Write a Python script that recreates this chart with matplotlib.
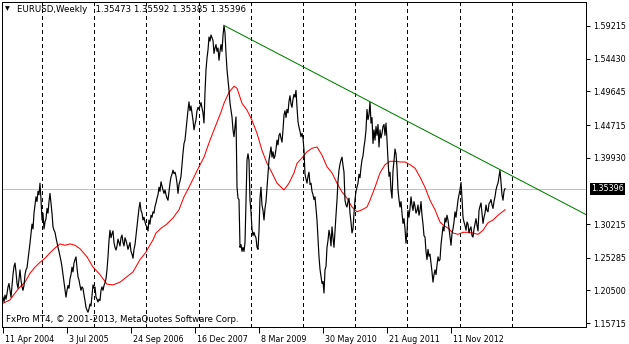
import matplotlib
matplotlib.use("Agg")
import matplotlib.pyplot as plt
import matplotlib.transforms as mtransforms

# weekly closes EURUSD, first bar = week of 11 Apr 2004
closes = [
    1.195, 1.188, 1.198, 1.192, 1.200, 1.210, 1.215, 1.205, 1.195, 1.212,
    1.228, 1.240, 1.245, 1.232, 1.215, 1.208, 1.222, 1.235, 1.220, 1.210,
    1.205, 1.212, 1.228, 1.235, 1.238, 1.250, 1.262, 1.274, 1.288, 1.302,
    1.295, 1.318, 1.330, 1.342, 1.335, 1.350, 1.345, 1.362, 1.338, 1.308,
    1.318, 1.295, 1.305, 1.310, 1.325, 1.318, 1.335, 1.347, 1.332, 1.318,
    1.298, 1.293, 1.290, 1.282, 1.275, 1.268, 1.262, 1.255, 1.248, 1.239,
    1.228, 1.216, 1.205, 1.195, 1.205, 1.212, 1.208, 1.222, 1.228, 1.239,
    1.232, 1.245, 1.250, 1.254, 1.238, 1.225, 1.220, 1.212, 1.205, 1.210,
    1.208, 1.198, 1.190, 1.180, 1.176, 1.173, 1.178, 1.185, 1.182, 1.198,
    1.213, 1.208, 1.210, 1.195, 1.192, 1.188, 1.192, 1.190, 1.205, 1.210,
    1.205, 1.212, 1.216, 1.222, 1.235, 1.254, 1.278, 1.293, 1.282, 1.288,
    1.292, 1.275, 1.268, 1.264, 1.270, 1.280, 1.275, 1.270, 1.282, 1.286,
    1.275, 1.270, 1.282, 1.278, 1.272, 1.265, 1.270, 1.275, 1.262, 1.258,
    1.252, 1.265, 1.272, 1.285, 1.298, 1.312, 1.325, 1.334, 1.322, 1.318,
    1.308, 1.312, 1.305, 1.300, 1.298, 1.292, 1.308, 1.302, 1.315, 1.312,
    1.320, 1.318, 1.328, 1.333, 1.340, 1.345, 1.356, 1.350, 1.364, 1.358,
    1.352, 1.347, 1.352, 1.345, 1.340, 1.337, 1.350, 1.362, 1.371, 1.375,
    1.381, 1.376, 1.378, 1.372, 1.362, 1.347, 1.360, 1.365, 1.372, 1.390,
    1.406, 1.420, 1.425, 1.440, 1.455, 1.469, 1.481, 1.468, 1.475, 1.465,
    1.454, 1.440, 1.448, 1.455, 1.468, 1.473, 1.470, 1.475, 1.480, 1.472,
    1.465, 1.450, 1.495, 1.528, 1.545, 1.557, 1.576, 1.570, 1.579, 1.575,
    1.571, 1.552, 1.560, 1.565, 1.555, 1.560, 1.542, 1.555, 1.565, 1.555,
    1.578, 1.593, 1.582, 1.552, 1.528, 1.513, 1.498, 1.479, 1.469, 1.459,
    1.440, 1.430, 1.444, 1.459, 1.356, 1.340, 1.338, 1.268, 1.272, 1.262,
    1.268, 1.262, 1.275, 1.335, 1.396, 1.405, 1.395, 1.337, 1.320, 1.295,
    1.285, 1.290, 1.285, 1.282, 1.268, 1.265, 1.292, 1.340, 1.356, 1.330,
    1.322, 1.308, 1.325, 1.335, 1.356, 1.378, 1.396, 1.405, 1.415, 1.400,
    1.408, 1.398, 1.402, 1.412, 1.425, 1.418, 1.432, 1.435, 1.428, 1.422,
    1.440, 1.462, 1.468, 1.458, 1.470, 1.465, 1.482, 1.490, 1.478, 1.473,
    1.485, 1.492, 1.488, 1.498, 1.473, 1.452, 1.444, 1.438, 1.430, 1.435,
    1.428, 1.410, 1.375, 1.368, 1.362, 1.372, 1.378, 1.360, 1.362, 1.350,
    1.345, 1.338, 1.342, 1.325, 1.308, 1.282, 1.254, 1.236, 1.225, 1.215,
    1.218, 1.201, 1.235, 1.240, 1.268, 1.278, 1.293, 1.285, 1.270, 1.298,
    1.282, 1.268, 1.292, 1.315, 1.337, 1.365, 1.381, 1.390, 1.396, 1.400,
    1.388, 1.378, 1.337, 1.330, 1.327, 1.335, 1.340, 1.318, 1.305, 1.289,
    1.295, 1.318, 1.338, 1.350, 1.356, 1.362, 1.375, 1.370, 1.385, 1.396,
    1.402, 1.415, 1.425, 1.440, 1.470, 1.455, 1.462, 1.481, 1.450, 1.458,
    1.420, 1.440, 1.425, 1.445, 1.432, 1.448, 1.415, 1.440, 1.428, 1.435,
    1.445, 1.448, 1.432, 1.450, 1.425, 1.396, 1.372, 1.378, 1.352, 1.340,
    1.380, 1.395, 1.412, 1.405, 1.385, 1.352, 1.338, 1.327, 1.335, 1.318,
    1.303, 1.310, 1.295, 1.274, 1.290, 1.322, 1.312, 1.325, 1.342, 1.330,
    1.322, 1.335, 1.328, 1.318, 1.322, 1.330, 1.315, 1.322, 1.335, 1.315,
    1.302, 1.285, 1.283, 1.262, 1.250, 1.265, 1.255, 1.258, 1.245, 1.232,
    1.217, 1.228, 1.235, 1.228, 1.242, 1.254, 1.248, 1.250, 1.272, 1.285,
    1.298, 1.292, 1.311, 1.305, 1.315, 1.308, 1.296, 1.283, 1.271, 1.288,
    1.295, 1.305, 1.320, 1.312, 1.325, 1.337, 1.345, 1.352, 1.363, 1.340,
    1.312, 1.305, 1.300, 1.293, 1.305, 1.302, 1.289, 1.295, 1.298, 1.285,
    1.283, 1.295, 1.302, 1.310, 1.300, 1.292, 1.322, 1.328, 1.333, 1.318,
    1.303, 1.312, 1.318, 1.330, 1.322, 1.320, 1.332, 1.334, 1.338, 1.330,
    1.325, 1.335, 1.342, 1.352, 1.358, 1.362, 1.372, 1.381, 1.362, 1.345,
    1.337, 1.350, 1.35396,
]

ma_bars = [0, 7, 12, 17, 22, 27, 32, 37, 42, 47, 52, 57, 62, 67, 72, 77, 84, 90, 97, 104,
           110, 117, 124, 130, 137, 143, 146, 150, 153, 158, 163, 170, 176, 181, 186, 191, 196, 201, 206, 211,
           218, 221, 226, 231, 234, 239, 244, 249, 254, 259, 264, 269, 274, 281, 286, 291, 294, 299, 304, 309,
           314, 319, 324, 329, 334, 339, 344, 349, 354, 359, 364, 367, 372, 377, 382, 387, 392, 397, 402, 407,
           412, 417, 422, 427, 432, 437, 440, 445, 450, 455, 460, 465, 470, 475, 480, 485, 490, 495, 502]
ma_vals = [1.186, 1.191, 1.201, 1.210, 1.217, 1.230, 1.239, 1.246, 1.252, 1.260,
           1.267, 1.273, 1.271, 1.273, 1.271, 1.266, 1.254, 1.239, 1.228, 1.214,
           1.213, 1.217, 1.225, 1.232, 1.250, 1.261, 1.269, 1.279, 1.289, 1.296,
           1.301, 1.311, 1.323, 1.342, 1.356, 1.371, 1.386, 1.400, 1.421, 1.440,
           1.466, 1.479, 1.495, 1.504, 1.501, 1.479, 1.469, 1.454, 1.435, 1.410,
           1.391, 1.377, 1.362, 1.352, 1.362, 1.377, 1.391, 1.399, 1.408, 1.413,
           1.415, 1.403, 1.386, 1.377, 1.362, 1.349, 1.340, 1.327, 1.320, 1.323,
           1.327, 1.337, 1.356, 1.377, 1.389, 1.394, 1.394, 1.393, 1.393, 1.389,
           1.384, 1.371, 1.356, 1.337, 1.323, 1.305, 1.301, 1.296, 1.289, 1.287,
           1.290, 1.290, 1.289, 1.287, 1.293, 1.304, 1.308, 1.315, 1.323]

# trend line anchors (green ray to the right)
trend_bars = [221, 497]
trend_vals = [1.5930, 1.3818]

price_ticks = [1.59215, 1.54430, 1.49645, 1.44715, 1.39930, 1.30215, 1.25285, 1.20500, 1.15715]
date_bars = [0, 64, 128, 192, 256, 320, 384, 448]
date_labels = ["11 Apr 2004", "3 Jul 2005", "24 Sep 2006", "16 Dec 2007",
               "8 Mar 2009", "30 May 2010", "21 Aug 2011", "11 Nov 2012"]
sep_bars = [38.5, 90.5, 143, 195.5, 247.5, 299.5, 351.5, 403.5, 456.5, 508.5]

symbol = "EURUSD,Weekly"
ohlc = "1.35473 1.35592 1.35385 1.35396"
last_price = closes[-1]

W, H = 629, 344
FS = 5.8
FS_TXT = 6.2
plt.rcParams["font.family"] = "DejaVu Sans"

fig = plt.figure(figsize=(W / 100, H / 100), dpi=100)
fig.patch.set_facecolor("white")
ax = fig.add_axes([2 / W, (H - 327) / H, 584 / W, 325 / H])
ax.set_facecolor("white")
ax.set_xlim(-1, 583)
ax.set_ylim(1.1513, 1.6273)

for b in sep_bars:
    ax.axvline(b, color="black", lw=0.72, ls=(0, (4, 3)), antialiased=False, zorder=1)

ax.axhline(last_price, color="#c0c0c0", lw=0.5, antialiased=False, zorder=1.5)

ax.plot(ma_bars, ma_vals, color="red", lw=0.75, zorder=2)
ax.plot(range(len(closes)), closes, color="black", lw=0.85, zorder=3)

slope = (trend_vals[1] - trend_vals[0]) / (trend_bars[1] - trend_bars[0])
x_end = ax.get_xlim()[1]
ax.plot([trend_bars[0], x_end], [trend_vals[0], trend_vals[0] + slope * (x_end - trend_bars[0])],
        color="#008000", lw=0.75, zorder=4)

for s in ax.spines.values():
    s.set_color("black")
    s.set_linewidth(0.72)

ax.yaxis.tick_right()
ax.set_yticks(price_ticks)
ax.set_yticklabels([f"{v:.5f}" for v in price_ticks])
ax.tick_params(axis="y", direction="out", length=3, width=0.72, pad=2, labelsize=FS, colors="black")

ax.set_xticks(date_bars)
ax.set_xticklabels(date_labels)
ax.tick_params(axis="x", direction="out", length=4, width=0.72, pad=1.5, labelsize=FS, colors="black")
shift = mtransforms.ScaledTranslation(2 / 100, 0, fig.dpi_scale_trans)
for lab in ax.get_xticklabels():
    lab.set_ha("left")
    lab.set_transform(lab.get_transform() + shift)

# current price box
tr = mtransforms.blended_transform_factory(ax.transAxes, ax.transData)
ax.text(589 / 584, last_price, f"{last_price:.5f}", transform=tr, ha="left", va="center",
        fontsize=FS, color="white", clip_on=False,
        bbox=dict(boxstyle="square,pad=0.18", fc="black", ec="black", lw=0))

# header and watermark
fig.text(5 / W, 1 - 9 / H, "\u25bc", fontsize=4.5, color="black", ha="left", va="center")
fig.text(17 / W, 1 - 9 / H, symbol + "   " + ohlc, fontsize=FS_TXT, color="black", ha="left", va="center")
fig.text(6 / W, 1 - 320 / H, "FxPro MT4, \u00a9 2001-2013, MetaQuotes Software Corp.",
         fontsize=FS_TXT, color="black", ha="left", va="center")

fig.savefig("out.png", dpi=100, facecolor="white")
